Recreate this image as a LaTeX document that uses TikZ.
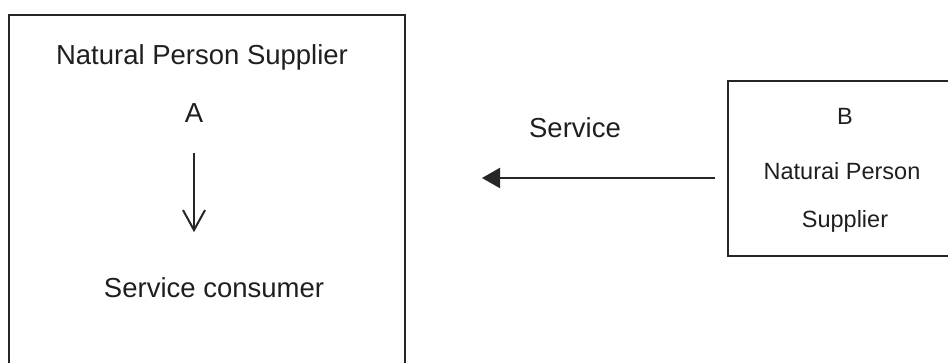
\documentclass[tikz,border=0pt]{standalone}
\usepackage{fontspec}
\setmainfont{Liberation Sans}
\usetikzlibrary{arrows.meta}
\begin{document}
\begin{tikzpicture}[x=1pt,y=-1pt,
  boxline/.style={line width=2.2pt, black!85},
  big/.style={font=\fontsize{27.5}{30}\selectfont, inner sep=0pt, anchor=base, text=black!88},
  small/.style={font=\fontsize{23.5}{26}\selectfont, inner sep=0pt, anchor=base, text=black!88},
  downarr/.style={line width=2pt, black!85, -{Straight Barb[length=20pt,width=22pt,line width=2pt]}},
  leftarr/.style={line width=2pt, black!85, -{Triangle[length=18pt,width=20pt]}}
]
\useasboundingbox (0,0) rectangle (948,363);
% left box (open at the bottom)
\coordinate (L1) at (9,370);
\coordinate (L2) at (9,15);
\coordinate (L3) at (405,15);
\coordinate (L4) at (405,370);
\draw[boxline] (L1) -- (L2) -- (L3) -- (L4);
% right box (open at the right)
\coordinate (R1) at (955,81);
\coordinate (R2) at (728,81);
\coordinate (R3) at (728,256);
\coordinate (R4) at (955,256);
\draw[boxline] (R1) -- (R2) -- (R3) -- (R4);
% texts
\node[big] (nps) at (202,65) {Natural Person Supplier};
\node[big] (A) at (194,123) {A};
\node[big] (cons) at (214,298) {Service consumer};
\node[big] (serv) at (575,138) {Service};
\node[small] (B) at (845,125) {B};
\node[small] (npB) at (842,180) {Naturai Person};
\node[small] (supB) at (845,228) {Supplier};
% arrows
\draw[downarr, shorten <=39pt, shorten >=56pt] (A.center) -- (A.center |- cons.center);
\coordinate (bstart) at (715,178);
\coordinate (btip) at (482,178);
\draw[leftarr] (bstart) -- (btip);
\end{tikzpicture}
\end{document}
